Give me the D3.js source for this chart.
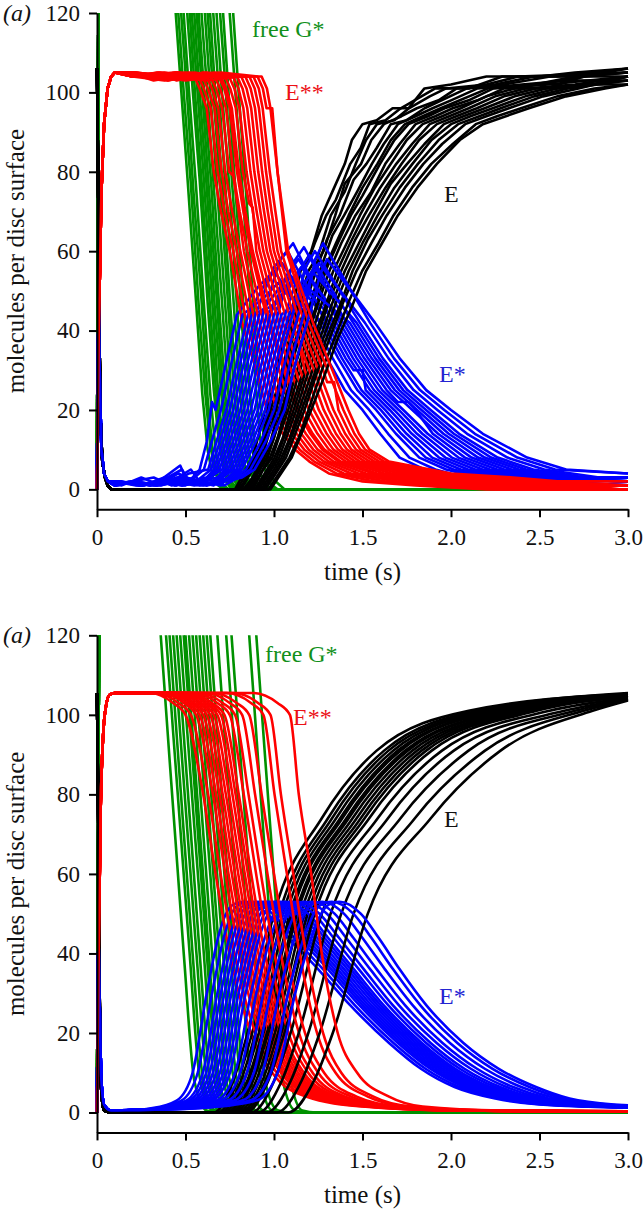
<!DOCTYPE html>
<html><head><meta charset="utf-8">
<script src="https://cdn.jsdelivr.net/npm/d3@7"></script>
<style>
body{margin:0;background:#fff}svg{display:block}
svg text{font-family:"Liberation Serif","Times New Roman",Tinos,"Nimbus Roman","DejaVu Serif",serif !important}
</style>
</head><body><svg id="c" width="644" height="1210"></svg>
<script>
// ---------- tick labels ----------
const xTicks=[0,0.5,1,1.5,2,2.5,3];
const xTickLabels=["0","0.5","1.0","1.5","2.0","2.5","3.0"];
const yTicks=[0,20,40,60,80,100,120];
const seriesNames={G:"free G*",E:"E",Es:"E*",Ess:"E**"};

// ---------- top panel (stochastic runs), flat [t,v, t,v, ...] ----------
const topGStart=[0,0,.008,128];
const topG=[
[.432,128,.475,101,.515,76,.56,47,.595,24,.625,10,.655,3,.685,1,.715,0,3,0],
[.447,128,.49,100,.53,77,.575,46,.61,25,.64,11,.67,4,.70,1,.73,0,3,0],
[.462,128,.505,102,.545,75,.59,48,.625,23,.655,9,.685,3,.715,1,.745,0,3,0],
[.477,128,.52,100,.56,76,.605,46,.64,24,.67,10,.70,3,.73,2,.76,0,3,0],
[.497,128,.54,101,.58,78,.625,47,.66,25,.69,11,.72,4,.75,1,.78,0,3,0],
[.512,128,.555,99,.595,75,.64,45,.675,23,.705,9,.735,3,.765,1,.795,0,3,0],
[.522,128,.565,102,.605,77,.65,48,.685,24,.715,10,.745,3,.775,1,.805,0,3,0],
[.537,128,.58,100,.62,76,.665,46,.70,25,.73,11,.76,4,.79,1,.82,0,3,0],
[.55,128,.593,101,.633,75,.678,47,.713,23,.743,10,.773,3,.803,1,.833,0,3,0],
[.562,128,.605,100,.645,77,.69,46,.725,24,.755,9,.785,3,.815,1,.845,0,3,0],
[.577,128,.62,102,.66,76,.705,48,.74,25,.77,10,.80,4,.83,2,.86,0,3,0],
[.597,128,.64,100,.68,75,.725,46,.76,23,.79,10,.82,3,.85,1,.88,0,3,0],
[.612,128,.655,101,.695,77,.74,47,.775,24,.805,11,.835,3,.865,1,.895,0,3,0],
[.627,128,.67,99,.71,76,.755,45,.79,24,.82,9,.85,3,.88,1,.91,0,3,0],
[.644,128,.687,101,.727,75,.772,47,.807,25,.837,10,.867,4,.897,1,.927,0,3,0],
[.663,128,.706,100,.746,77,.791,46,.826,23,.856,10,.886,3,.916,1,.946,0,3,0],
[.682,128,.725,102,.765,76,.81,48,.845,24,.875,11,.905,3,.935,2,.965,0,3,0],
[.70,128,.743,100,.783,75,.828,46,.863,25,.893,10,.923,4,.953,1,.983,0,3,0],
[.737,128,.78,101,.82,77,.865,47,.90,24,.93,9,.96,3,.99,1,1.02,0,3,0],
[.757,128,.80,100,.84,76,.885,46,.92,23,.95,10,.98,3,1.01,2,1.06,0,3,0]
];
const topEStart=[0,106,.006,80,.012,45,.02,18,.03,7,.045,3,.06,1,.08,0];
const topE=[
[.78,0,.84,5,.88,8,.95,20,1.0,26,1.05,38,1.10,45,1.15,55,1.21,60,1.27,69,1.33,75,1.40,82,1.44,88,1.50,92,1.58,93,1.67,96,1.76,96,1.85,101,2.0,102,2.2,104,2.5,104,2.7,105,3,106],
[.792,0,.893,8,.93,11,.965,20,1.02,30,1.068,38,1.11,42,1.172,55,1.23,62,1.295,69,1.35,73,1.431,82,1.49,86,1.54,92,1.63,93,1.716,96,1.911,101,2.1,101,2.29,104,2.6,104,3,105],
[.803,0,.86,4,.906,8,.98,20,1.03,27,1.086,38,1.14,46,1.194,55,1.25,59,1.321,69,1.40,75,1.462,82,1.52,88,1.581,92,1.68,93,1.762,96,1.88,99,1.972,101,2.2,102,2.38,104,3,105],
[.815,0,.918,8,.996,20,1.05,28,1.105,38,1.16,48,1.215,55,1.28,60,1.346,69,1.40,77,1.492,82,1.55,88,1.621,92,1.72,94,1.807,96,1.93,98,2.032,101,2.25,102,2.47,104,2.75,104,3,104],
[.827,0,.88,3,.932,8,1.011,20,1.07,30,1.123,38,1.18,47,1.237,55,1.30,63,1.371,69,1.45,78,1.522,82,1.58,86,1.66,92,1.75,93,1.851,96,2.09,101,2.3,102,2.56,104,2.8,105,3,106],
[.839,0,.945,8,.98,12,1.026,20,1.08,28,1.141,38,1.20,46,1.259,55,1.33,64,1.396,69,1.47,75,1.553,82,1.62,87,1.70,92,1.80,94,1.896,96,2.0,98,2.15,101,2.4,102,2.66,103,3,103],
[.851,0,.958,8,1.0,13,1.042,20,1.10,28,1.159,38,1.22,47,1.281,55,1.35,62,1.422,69,1.50,76,1.584,82,1.66,88,1.74,92,1.84,94,1.942,96,2.21,101,2.5,102,2.76,104,3,105],
[.857,0,.92,5,.964,8,1.049,20,1.11,30,1.169,38,1.23,45,1.291,55,1.36,62,1.434,69,1.50,74,1.599,82,1.68,88,1.76,92,1.87,94,1.964,96,2.1,98,2.24,101,2.55,102,3,104],
[.868,0,.977,8,1.02,13,1.065,20,1.13,30,1.187,38,1.25,47,1.313,55,1.38,62,1.46,69,1.55,75,1.629,82,1.71,87,1.80,92,1.91,94,2.01,96,2.15,98,2.30,101,2.6,101,2.8,102,3,102],
[.88,0,.94,5,.99,8,1.08,20,1.14,29,1.205,38,1.27,47,1.335,55,1.40,61,1.485,69,1.57,76,1.66,82,1.75,88,1.84,92,1.95,94,2.055,96,2.2,99,2.36,101,2.7,104,3,105],
[.892,0,1.003,8,1.05,13,1.095,20,1.16,29,1.223,38,1.29,46,1.357,55,1.43,62,1.51,69,1.60,76,1.691,82,1.78,87,1.88,92,1.99,94,2.10,96,2.25,99,2.42,101,2.7,102,3,104],
[.903,0,1.016,8,1.111,20,1.18,30,1.241,38,1.30,46,1.379,55,1.46,63,1.536,69,1.63,76,1.721,82,1.82,88,1.92,92,2.03,94,2.146,96,2.3,99,2.48,101,2.75,102,3,103],
[.915,0,.97,4,1.029,8,1.126,20,1.19,29,1.26,38,1.33,47,1.40,55,1.48,62,1.561,69,1.66,77,1.752,82,1.85,87,1.96,92,2.07,94,2.19,96,2.36,99,2.54,101,2.75,104,3,106],
[.927,0,1.042,8,1.09,13,1.141,20,1.21,29,1.278,38,1.35,47,1.422,55,1.50,62,1.586,69,1.68,76,1.782,82,1.89,88,2.00,92,2.11,94,2.236,96,2.42,99,2.60,101,2.8,102,3,104],
[.939,0,1.055,8,1.156,20,1.22,28,1.296,38,1.37,46,1.444,55,1.53,63,1.611,69,1.71,76,1.813,82,1.93,88,2.04,92,2.16,94,2.281,96,2.47,99,2.66,101,3,103],
[.951,0,1.01,4,1.068,8,1.172,20,1.24,29,1.314,38,1.39,47,1.466,55,1.55,62,1.637,69,1.74,76,1.844,82,1.95,87,2.08,92,2.2,94,2.327,96,2.52,99,2.72,101,3,104],
[.968,0,1.087,8,1.14,13,1.195,20,1.27,30,1.342,38,1.42,47,1.498,55,1.59,62,1.675,69,1.78,76,1.889,82,2.01,87,2.14,92,2.26,94,2.395,96,2.6,99,2.81,101,3,102],
[.98,0,1.10,8,1.21,20,1.28,28,1.36,38,1.44,46,1.52,55,1.61,62,1.70,69,1.81,76,1.92,82,2.05,88,2.18,92,2.31,94,2.44,96,2.65,99,2.87,101,3,102]
];
const topEsStart=[0,0,.004,30,.01,48,.016,28,.025,10,.04,4,.06,2];
const topEs=[
[.12,1,.2,2,.3,1,.4,3,.48,5,.52,2,.58,5,.62,12,.65,22,.67,20,.72,30,.79,44,.91,51,1.0,55,1.20,42,1.30,33,1.40,25,1.50,20,1.60,14,1.71,8,1.85,5,2.0,3,2.3,2,3,1],
[.1,2,.22,1,.33,2,.45,1,.55,3,.604,5,.648,12,.70,20,.75,30,.822,44,.937,48,1.023,52,1.228,42,1.332,33,1.435,25,1.538,20,1.645,14,1.765,8,1.912,5,2.076,3,3,1],
[.14,1,.25,3,.36,1,.44,2,.52,4,.628,5,.675,12,.73,20,.78,30,.853,44,.964,53,1.046,57,1.257,42,1.363,33,1.471,25,1.577,20,1.689,14,1.821,8,1.973,5,2.152,3,3,1],
[.1,1,.2,2,.32,3,.42,1,.56,2,.644,5,.694,12,.75,20,.80,30,.874,44,.982,46,1.062,50,1.276,42,1.384,33,1.494,25,1.603,20,1.719,14,1.858,8,2.014,5,2.203,3,3,2],
[.12,2,.24,1,.35,2,.47,6,.5,3,.6,2,.66,5,.712,12,.77,20,.82,30,.895,44,1.0,56,1.077,60,1.295,42,1.405,33,1.45,30,1.5,30,1.518,25,1.628,20,1.749,14,1.894,8,2.055,5,2.254,3,3,2],
[.1,1,.18,2,.3,1,.4,2,.5,3,.6,2,.675,5,.731,12,.79,20,.84,30,.916,44,1.018,50,1.092,54,1.314,42,1.426,33,1.542,25,1.654,20,1.779,14,1.932,8,2.096,5,2.305,3,3,2],
[.13,2,.26,1,.38,3,.44,1,.55,2,.62,3,.691,5,.749,12,.81,20,.86,30,.937,44,1.036,58,1.108,62,1.333,42,1.447,33,1.565,25,1.679,20,1.808,14,1.968,8,2.137,5,2.355,3,3,2],
[.1,1,.22,2,.34,1,.46,4,.54,2,.64,3,.707,5,.768,12,.83,20,.88,30,.958,44,1.054,49,1.123,53,1.352,42,1.468,33,1.589,25,1.705,20,1.838,14,2.005,8,2.178,5,2.406,3,3,2],
[.12,2,.24,1,.36,2,.5,1,.6,3,.66,2,.723,5,.786,12,.85,20,.90,30,.979,44,1.072,54,1.138,58,1.371,42,1.489,33,1.612,25,1.731,20,1.868,14,2.042,8,2.219,5,2.457,3,3,2],
[.1,1,.2,2,.3,1,.42,2,.53,5,.58,2,.68,3,.739,5,.805,12,.87,20,.92,30,1.0,44,1.089,52,1.154,56,1.39,42,1.51,33,1.636,25,1.70,22,1.76,22,1.80,20,1.897,14,2.079,8,2.26,5,2.508,3,3,3],
[.14,2,.27,1,.4,3,.5,2,.62,1,.7,3,.755,5,.823,12,.89,20,.94,30,1.021,44,1.107,57,1.169,61,1.409,42,1.531,33,1.659,25,1.782,20,1.927,14,2.116,8,2.301,5,2.558,3,3,2],
[.1,1,.2,2,.33,1,.45,3,.56,2,.66,1,.71,3,.771,5,.842,12,.91,20,.96,30,1.042,44,1.125,47,1.185,51,1.428,42,1.552,33,1.683,25,1.808,20,1.957,14,2.153,8,2.342,5,2.609,3,3,3],
[.12,2,.25,1,.37,2,.48,1,.6,2,.7,1,.74,3,.787,5,.86,12,.93,20,.98,30,1.063,44,1.143,55,1.20,59,1.447,42,1.573,33,1.707,25,1.833,20,1.987,14,2.19,8,2.383,5,2.66,3,3,3],
[.1,1,.21,2,.34,1,.44,2,.55,1,.68,2,.75,3,.803,5,.878,12,.95,20,1.0,30,1.084,44,1.161,51,1.215,55,1.466,42,1.594,33,1.73,25,1.859,20,2.016,14,2.227,8,2.424,5,2.711,3,3,3],
[.13,2,.26,1,.38,2,.5,3,.62,1,.72,2,.77,3,.818,5,.897,12,.97,20,1.02,30,1.105,44,1.179,56,1.231,60,1.485,42,1.615,33,1.754,25,1.885,20,2.046,14,2.264,8,2.465,5,2.761,3,3,3],
[.1,1,.2,2,.32,1,.46,2,.58,1,.7,2,.78,3,.842,5,.925,12,1.0,20,1.05,30,1.137,44,1.206,53,1.254,57,1.513,42,1.647,33,1.789,25,1.923,20,2.091,14,2.319,8,2.527,5,2.838,3,3,3],
[.12,2,.24,1,.36,2,.48,1,.6,2,.72,1,.8,3,.866,5,.952,12,1.03,20,1.08,30,1.168,44,1.233,58,1.277,62,1.542,42,1.678,33,1.825,25,1.962,20,2.135,14,2.375,8,2.588,5,3,4],
[.1,1,.22,2,.35,1,.47,2,.6,1,.72,2,.82,3,.89,5,.98,12,1.06,20,1.11,30,1.20,44,1.26,54,1.30,58,1.57,42,1.71,33,1.86,25,2.0,20,2.18,14,2.43,8,2.65,5,3,4]
];
const topEssStart=[0,0,.01,40,.025,75,.04,92,.06,101,.08,104,.1,105];
const topEss=[
[.2,104,.35,105,.45,103,.55,104,.58,101,.62,96,.66,80,.70,70,.75,60,.82,42,.90,30,.96,20,1.05,14,1.12,10,1.20,7,1.31,4,1.50,2,1.80,1,2.20,0,3,0],
[.2,105,.3,104,.45,105,.573,104,.603,101,.642,96,.682,80,.721,70,.77,60,.844,42,.926,30,.988,20,1.076,14,1.145,10,1.227,7,1.352,4,1.567,2,1.872,1,2.25,0,3,0],
[.18,105,.32,103,.45,104,.596,104,.626,101,.664,96,.704,80,.742,70,.79,60,.868,42,.952,30,1.016,20,1.102,14,1.171,10,1.255,7,1.394,4,1.633,2,1.943,1,2.3,0,3,0],
[.2,104,.34,105,.5,104,.619,104,.649,101,.685,96,.725,80,.764,70,.81,60,.893,42,.978,30,1.044,20,1.128,14,1.196,10,1.282,7,1.436,4,1.70,2,2.015,1,2.4,0,3,0],
[.22,105,.36,104,.5,105,.642,104,.672,101,.707,96,.747,80,.77,79,.80,70,.83,60,.917,42,1.004,30,1.071,20,1.154,14,1.222,10,1.309,7,1.477,4,1.766,2,2.086,1,3,1],
[.2,104,.38,103,.52,105,.665,104,.695,101,.729,96,.769,80,.806,70,.85,60,.941,42,1.03,30,1.099,20,1.18,14,1.247,10,1.336,7,1.519,4,1.833,2,2.158,1,2.6,0,3,0],
[.16,105,.33,104,.5,103,.688,104,.718,101,.751,96,.791,80,.827,70,.87,60,.965,42,1.056,30,1.127,20,1.206,14,1.273,10,1.364,7,1.561,4,1.90,2,2.229,1,3,1],
[.2,105,.4,104,.55,105,.70,104,.73,101,.762,96,.802,80,.838,70,.88,60,.978,42,1.069,30,1.141,20,1.219,14,1.285,10,1.377,7,1.582,4,1.933,2,2.265,1,2.7,0,3,0],
[.2,104,.36,105,.56,104,.723,104,.753,101,.784,96,.824,80,.86,72,.88,71,.90,60,1.002,42,1.096,30,1.169,20,1.246,14,1.311,10,1.405,7,1.624,4,2.0,2,2.337,1,2.8,0,3,0],
[.18,105,.4,103,.6,105,.746,104,.776,101,.805,96,.845,80,.88,70,.92,60,1.026,42,1.122,30,1.197,20,1.272,14,1.336,10,1.432,7,1.665,4,2.067,2,2.408,1,3,1],
[.2,104,.38,105,.6,104,.769,104,.799,101,.827,96,.867,80,.902,70,.94,60,1.05,42,1.148,30,1.225,20,1.298,14,1.362,10,1.459,7,1.707,4,2.134,2,2.48,1,2.9,0,3,0],
[.22,105,.42,104,.62,105,.792,104,.822,101,.849,96,.889,80,.923,70,.96,60,1.075,42,1.10,38,1.14,37,1.174,30,1.253,20,1.324,14,1.387,10,1.486,7,1.749,4,2.20,2,2.551,1,2.95,0,3,0],
[.2,105,.4,104,.62,103,.815,104,.845,101,.871,96,.911,80,.944,70,.98,60,1.099,42,1.20,30,1.281,20,1.35,14,1.413,10,1.514,7,1.791,4,2.267,2,2.622,1,3,1],
[.2,104,.45,105,.65,104,.838,104,.868,101,.893,96,.933,80,.965,70,1.0,60,1.123,42,1.226,30,1.309,20,1.376,14,1.438,10,1.541,7,1.833,4,2.334,2,2.694,1,3,1],
[.2,105,.4,103,.66,105,.861,104,.891,101,.915,96,.955,80,.986,70,1.02,60,1.147,42,1.252,30,1.336,20,1.402,14,1.464,10,1.568,7,1.874,4,2.40,2,2.765,1,2.95,0,3,0],
[.25,104,.45,105,.7,104,.884,104,.914,101,.936,96,.976,80,1.008,70,1.04,60,1.172,42,1.278,30,1.30,27,1.34,27,1.364,20,1.428,14,1.489,10,1.595,7,1.916,4,2.467,2,2.837,1,3,1],
[.2,105,.5,104,.7,105,.907,104,.937,101,.958,96,.99,96,1.02,80,1.045,70,1.07,60,1.196,42,1.304,30,1.392,20,1.454,14,1.515,10,1.623,7,1.958,4,2.533,2,3,1],
[.2,104,.45,105,.75,104,.93,104,.96,101,.98,96,1.02,80,1.05,70,1.08,60,1.22,42,1.33,30,1.42,20,1.48,14,1.54,10,1.65,7,2.0,4,2.35,3,2.6,2,3,2]
];

// ---------- bottom panel (deterministic runs), flat [t,v, ...] ----------
const botGStart=[0,0,.012,125];
const botG=[
[.35,126,.36,120,.49,40,.55,8,.62,.5,.70,0,3,0],
[.38,126,.39,120,.52,42,.58,9,.65,.6,.73,0,3,0],
[.40,126,.41,120,.54,40,.60,8,.67,.5,.75,0,3,0],
[.42,126,.43,120,.56,41,.62,9,.69,.5,.77,0,3,0],
[.44,126,.45,120,.58,40,.64,8,.71,.5,.79,0,3,0],
[.46,126,.47,120,.60,42,.66,9,.73,.6,.81,0,3,0],
[.48,126,.49,120,.62,40,.68,8,.75,.5,.83,0,3,0],
[.49,126,.50,120,.63,41,.69,8,.76,.5,.84,0,3,0],
[.51,126,.52,120,.65,40,.71,9,.78,.5,.86,0,3,0],
[.53,126,.54,120,.67,42,.73,8,.80,.6,.88,0,3,0],
[.55,126,.56,120,.69,40,.75,8,.82,.5,.90,0,3,0],
[.57,126,.58,120,.71,41,.77,9,.84,.5,.92,0,3,0],
[.59,126,.60,120,.73,40,.79,8,.86,.5,.94,0,3,0],
[.61,126,.62,120,.75,42,.81,9,.88,.6,.96,0,3,0],
[.63,126,.64,120,.77,40,.83,8,.90,.5,.98,0,3,0],
[.67,126,.68,120,.81,41,.87,8,.94,.5,1.02,0,3,0],
[.72,126,.73,120,.86,40,.92,9,.99,.5,1.07,0,3,0],
[.75,126,.76,120,.89,42,.95,8,1.02,.6,1.10,0,3,0],
[.85,126,.86,120,.99,40,1.05,8,1.12,.5,1.20,0,3,0],
[.89,126,.90,120,1.03,41,1.09,9,1.16,.5,1.24,0,3,0]
];
const botEStart=[0,105.5,.008,70,.016,25,.025,5,.04,.5,.08,0];
const botE=[
[.66,0,.77,8,.85,20,1.00,50,1.27,74,1.58,91,2.10,101,3,105.3],
[.683,0,.795,8,.877,20,1.03,50,1.305,74,1.622,91,2.152,101,3,105],
[.70,0,.813,8,.895,20,1.05,50,1.328,74,1.647,91,2.183,101,3,105.5],
[.716,0,.831,8,.914,20,1.07,50,1.351,74,1.673,91,2.214,101,3,104.8],
[.733,0,.849,8,.933,20,1.09,50,1.374,74,1.699,91,2.245,101,3,105.2],
[.74,0,.856,8,.941,20,1.10,50,1.386,74,1.715,91,2.266,101,3,104.6],
[.756,0,.874,8,.96,20,1.12,50,1.409,74,1.741,91,2.297,101,3,105],
[.763,0,.882,8,.968,20,1.13,50,1.422,74,1.756,91,2.318,101,3,104.9],
[.779,0,.899,8,.986,20,1.15,50,1.444,74,1.782,91,2.349,101,3,105.3],
[.796,0,.917,8,1.005,20,1.17,50,1.467,74,1.808,91,2.38,101,3,104.5],
[.813,0,.935,8,1.023,20,1.19,50,1.49,74,1.834,91,2.411,101,3,104.8],
[.829,0,.952,8,1.042,20,1.21,50,1.512,74,1.86,91,2.442,101,3,104.4],
[.842,0,.968,8,1.059,20,1.23,50,1.538,74,1.891,91,2.484,101,3,104.7],
[.872,0,1.001,8,1.094,20,1.27,50,1.586,74,1.949,91,2.557,101,3,104.2],
[.912,0,1.044,8,1.14,20,1.32,50,1.644,74,2.016,91,2.64,101,3,104],
[.958,0,1.095,8,1.194,20,1.38,50,1.715,74,2.099,91,2.70,101,3,104],
[1.015,0,1.156,8,1.258,20,1.45,50,1.796,74,2.192,91,2.75,101,3,103.8],
[1.081,0,1.226,8,1.332,20,1.53,50,1.886,74,2.28,91,2.80,101,3,103.6]
];
const botEsStart=[0,0,.004,30,.009,42,.016,25,.025,8,.04,2,.08,.5,.2,.6];
const botEs=[
[.30,1,.45,3,.54,10,.62,30,.69,45,.76,52,.83,53,.96,50,1.08,44,1.25,36,1.43,27,1.65,17.5,1.83,11,2.02,6.4,2.25,3.5,2.50,2,3,1.2],
[.315,1,.477,3,.569,10,.65,30,.722,45,.792,52,.862,53,.992,50,1.111,44,1.278,36,1.456,27,1.675,17.5,1.856,11,2.048,6.4,2.275,3.5,2.525,2,3,1.24],
[.33,1,.504,3,.598,10,.68,30,.754,45,.825,52,.895,53,1.024,50,1.141,44,1.305,36,1.482,27,1.70,17.5,1.883,11,2.075,6.4,2.30,3.5,2.55,2,3,1.27],
[.34,1,.522,3,.617,10,.70,30,.775,45,.846,52,.916,53,1.045,50,1.162,44,1.324,36,1.499,27,1.717,17.5,1.90,11,2.094,6.4,2.317,3.5,2.567,2,3,1.3],
[.35,1,.54,3,.636,10,.72,30,.796,45,.868,52,.938,53,1.066,50,1.182,44,1.342,36,1.516,27,1.734,17.5,1.918,11,2.112,6.4,2.334,3.5,2.584,2,3,1.32],
[.36,1,.558,3,.655,10,.74,30,.817,45,.89,52,.96,53,1.087,50,1.202,44,1.36,36,1.533,27,1.751,17.5,1.936,11,2.13,6.4,2.351,3.5,2.601,2,3,1.34],
[.37,1,.576,3,.674,10,.76,30,.838,45,.911,52,.981,53,1.108,50,1.223,44,1.379,36,1.55,27,1.768,17.5,1.953,11,2.149,6.4,2.368,3.5,2.618,2,3,1.37],
[.38,1,.594,3,.694,10,.78,30,.86,45,.933,52,1.003,53,1.13,50,1.243,44,1.397,36,1.568,27,1.784,17.5,1.971,11,2.167,6.4,2.384,3.5,2.634,2,3,1.39],
[.39,1,.612,3,.713,10,.80,30,.881,45,.954,52,1.024,53,1.151,50,1.264,44,1.416,36,1.585,27,1.801,17.5,1.988,11,2.186,6.4,2.401,3.5,2.651,2,3,1.42],
[.40,1,.63,3,.732,10,.82,30,.902,45,.976,52,1.046,53,1.172,50,1.284,44,1.434,36,1.602,27,1.818,17.5,2.006,11,2.204,6.4,2.418,3.5,2.668,2,3,1.44],
[.41,1,.648,3,.751,10,.84,30,.923,45,.998,52,1.068,53,1.193,50,1.304,44,1.452,36,1.619,27,1.835,17.5,2.024,11,2.222,6.4,2.435,3.5,2.685,2,3,1.46],
[.425,1,.675,3,.78,10,.87,30,.955,45,1.03,52,1.10,53,1.225,50,1.335,44,1.48,36,1.645,27,1.86,17.5,2.05,11,2.25,6.4,2.46,3.5,2.71,2,3,1.5],
[.44,1,.702,3,.809,10,.90,30,.987,45,1.062,52,1.132,53,1.257,50,1.366,44,1.508,36,1.671,27,1.885,17.5,2.076,11,2.278,6.4,2.485,3.5,2.735,2,3,1.54],
[.46,1,.738,3,.847,10,.94,30,1.029,45,1.106,52,1.176,53,1.299,50,1.406,44,1.544,36,1.705,27,1.919,17.5,2.112,11,2.314,6.4,2.519,3.5,2.769,2,3,1.58],
[.48,1,.774,3,.886,10,.98,30,1.072,45,1.149,52,1.219,53,1.342,50,1.447,44,1.581,36,1.74,27,1.952,17.5,2.147,11,2.351,6.4,2.552,3.5,2.802,2,3,1.63],
[.505,1,.819,3,.934,10,1.03,30,1.125,45,1.203,52,1.273,53,1.395,50,1.498,44,1.627,36,1.783,27,1.994,17.5,2.191,11,2.397,6.4,2.594,3.5,2.844,2,3,1.69],
[.53,1,.864,3,.982,10,1.08,30,1.178,45,1.257,52,1.327,53,1.448,50,1.549,44,1.673,36,1.826,27,2.036,17.5,2.235,11,2.443,6.4,2.636,3.5,2.886,2,3,1.75],
[.55,1,.90,3,1.02,10,1.12,30,1.22,45,1.30,52,1.37,53,1.49,50,1.59,44,1.71,36,1.86,27,2.07,17.5,2.27,11,2.48,6.4,2.67,3.5,2.92,2,3,1.8]
];
const botEssStart=[0,0,.008,35,.02,75,.035,95,.05,102,.07,105,.1,105.5];
const botEss=[
[.30,105.5,.43,103,.50,100,.60,80,.67,60,.75,40,.87,20,.99,10,1.18,4,1.50,1.5,2.00,.5,3,.2],
[.32,105.5,.46,103,.53,100,.628,80,.698,60,.777,40,.895,20,1.015,10,1.204,4,1.52,1.5,2.02,.5,3,.2],
[.35,105.5,.49,103,.56,100,.655,80,.725,60,.803,40,.921,20,1.039,10,1.228,4,1.535,1.5,2.03,.5,3,.2],
[.37,105.5,.51,103,.58,100,.673,80,.743,60,.822,40,.938,20,1.055,10,1.244,4,1.546,1.5,2.04,.5,3,.2],
[.39,105.5,.53,103,.60,100,.692,80,.762,60,.84,40,.955,20,1.071,10,1.26,4,1.558,1.5,2.05,.5,3,.2],
[.41,105.5,.55,103,.62,100,.71,80,.78,60,.858,40,.972,20,1.088,10,1.276,4,1.57,1.5,2.06,.5,3,.2],
[.43,105.5,.57,103,.64,100,.728,80,.798,60,.876,40,.989,20,1.104,10,1.292,4,1.58,1.5,2.07,.5,3,.2],
[.45,105.5,.59,103,.66,100,.746,80,.816,60,.894,40,1.006,20,1.12,10,1.308,4,1.59,1.5,2.08,.5,3,.2],
[.47,105.5,.61,103,.68,100,.765,80,.835,60,.912,40,1.023,20,1.136,10,1.323,4,1.60,1.5,2.09,.5,3,.2],
[.49,105.5,.63,103,.70,100,.783,80,.853,60,.93,40,1.04,20,1.153,10,1.339,4,1.615,1.5,2.10,.5,3,.2],
[.51,105.5,.65,103,.72,100,.801,80,.871,60,.948,40,1.056,20,1.169,10,1.355,4,1.627,1.5,2.11,.5,3,.2],
[.54,105.5,.68,103,.75,100,.829,80,.899,60,.975,40,1.082,20,1.193,10,1.379,4,1.644,1.5,2.12,.5,3,.25],
[.57,105.5,.71,103,.78,100,.856,80,.926,60,1.002,40,1.107,20,1.218,10,1.403,4,1.661,1.5,2.14,.5,3,.25],
[.61,105.5,.75,103,.82,100,.893,80,.963,60,1.038,40,1.141,20,1.25,10,1.435,4,1.685,1.5,2.16,.5,3,.25],
[.65,105.5,.79,103,.86,100,.93,80,1.0,60,1.073,40,1.175,20,1.283,10,1.467,4,1.708,1.5,2.18,.5,3,.3],
[.73,105.5,.87,103,.94,100,1.003,80,1.073,60,1.145,40,1.243,20,1.348,10,1.53,4,1.753,1.5,2.22,.5,3,.3],
[.77,105.5,.91,103,.98,100,1.039,80,1.109,60,1.181,40,1.277,20,1.38,10,1.562,4,1.777,1.5,2.24,.5,3,.3],
[.88,105.5,1.02,103,1.09,100,1.14,80,1.21,60,1.27,40,1.36,20,1.47,10,1.65,4,1.84,1.5,2.29,.5,3,.3]
];

// ---------- drawing ----------
const colors={G:"#009100",E:"#000000",Es:"#0000ff",Ess:"#ff0000"};
const labelColors={G:"#11901a",E:"#111111",Es:"#2424d2",Ess:"#ec1016"};
const FONT="Liberation Serif, Times New Roman, serif";

function pairs(a){const p=[];for(let i=0;i+1<a.length;i+=2)p.push([a[i],a[i+1]]);return p;}

const panels=[
 {top:13,bottom:509.2,curve:d3.curveLinear,
  sets:{G:[topGStart,topG],E:[topEStart,topE],Es:[topEsStart,topEs],Ess:[topEssStart,topEss]},
  labels:{G:[252,37],Ess:[285,100],E:[444,202],Es:[439,382]}},
 {top:635.3,bottom:1132.4,curve:d3.curveMonotoneX,
  sets:{G:[botGStart,botG],E:[botEStart,botE],Es:[botEsStart,botEs],Ess:[botEssStart,botEss]},
  labels:{G:[265,662],Ess:[293,725],E:[444,827],Es:[439,1004]}}
];

const svg=d3.select("#c");
const defs=svg.append("defs");
const x=d3.scaleLinear().domain([0,3]).range([97,628]);

panels.forEach((P,pi)=>{
  const y=d3.scaleLinear().domain([-5,120]).range([P.bottom,P.top]);
  const cid="clip"+pi;
  defs.append("clipPath").attr("id",cid).append("rect")
    .attr("x",88).attr("y",y(120)).attr("width",545).attr("height",y(-5)-y(120));
  const line=d3.line().x(d=>x(d[0])).y(d=>y(d[1])).curve(P.curve);
  const plot=svg.append("g").attr("clip-path",`url(#${cid})`)
    .attr("fill","none").attr("stroke-width",2.6).attr("stroke-linejoin","round");
  const draw=(key,i)=>{
    const [start,list]=P.sets[key];
    if(i>=list.length) return;
    plot.append("path").attr("d",line(pairs(start.concat(list[i])))).attr("stroke",colors[key]);
  };
  P.sets.G[1].forEach((_,i)=>draw("G",i));
  const n=Math.max(P.sets.E[1].length,P.sets.Es[1].length,P.sets.Ess[1].length);
  for(let i=0;i<n;i++){draw("E",i);draw("Es",i);draw("Ess",i);}

  const ya=svg.append("g").attr("transform","translate(97,0)")
    .call(d3.axisLeft(y).tickValues(yTicks).tickSize(8).tickPadding(9).tickSizeOuter(0));
  const xa=svg.append("g").attr("transform",`translate(0,${y(-5)})`)
    .call(d3.axisBottom(x).tickValues(xTicks).tickSize(8).tickPadding(11).tickSizeOuter(0)
      .tickFormat((d,i)=>xTickLabels[i]));
  [ya,xa].forEach(a=>{
    a.attr("font-family",FONT).attr("font-size",23);
    a.selectAll("path,line").attr("stroke","#000").attr("stroke-width",2);
    a.selectAll("text").attr("fill","#111");
  });

  svg.append("text").attr("x",362.5).attr("y",y(-5)+70.6).attr("text-anchor","middle")
    .attr("font-family",FONT).attr("font-size",25).attr("fill","#111").text("time (s)");
  svg.append("text").attr("transform",`translate(23.5,${(y(120)+y(-5))/2}) rotate(-90)`)
    .attr("text-anchor","middle").attr("font-family",FONT).attr("font-size",25).attr("fill","#111")
    .text("molecules per disc surface");
  svg.append("text").attr("x",3).attr("y",P.top+7.5).attr("font-family",FONT)
    .attr("font-size",24).attr("font-style","italic").attr("fill","#111").text("(a)");

  Object.keys(P.labels).forEach(k=>{
    const [lx,ly]=P.labels[k];
    svg.append("text").attr("x",lx).attr("y",ly).attr("font-family",FONT).attr("font-size",24)
      .attr("fill",labelColors[k]).text(seriesNames[k]);
  });
});
</script>
</body></html>
